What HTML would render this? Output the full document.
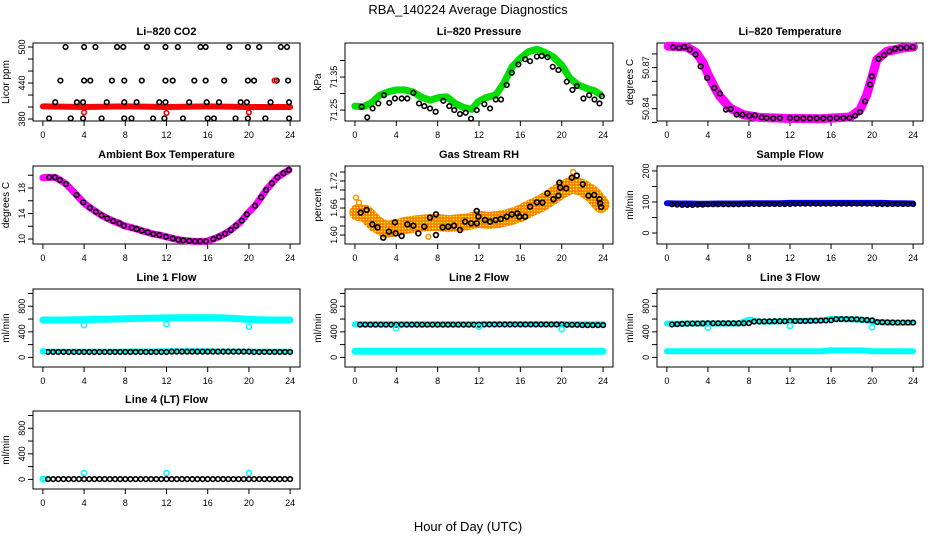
<!DOCTYPE html>
<html><head><meta charset="utf-8"><title>RBA_140224 Average Diagnostics</title>
<style>
html,body{margin:0;padding:0;background:#fff;}
svg{display:block;font-family:"Liberation Sans",sans-serif;}
</style></head>
<body>
<svg id="chart" width="936" height="540" viewBox="0 0 936 540" xmlns="http://www.w3.org/2000/svg">
<defs>
<pattern id="rhpat" width="3" height="3" patternUnits="userSpaceOnUse">
<rect width="3" height="3" fill="#ff9900"/>
<rect x="0" y="0" width="1" height="1" fill="#ffff00"/>
<rect x="1.5" y="1.5" width="1" height="1" fill="#ff2200"/>
</pattern>
</defs>
<text x="468" y="14" text-anchor="middle" font-size="13">RBA_140224  Average Diagnostics</text>
<text x="468" y="531" text-anchor="middle" font-size="13">Hour of Day (UTC)</text>
</svg>
<script>
// ---------- data ----------
const xTickLabels = [0,4,8,12,16,20,24];
// CO2 discrete levels
const co2Hours500 = [2.2,4.0,5.1,7.2,7.8,10.1,11.9,13.1,15.3,15.8,18.1,19.9,21.0,23.1,23.7];
const co2Hours444 = [1.7,4.0,4.6,6.7,7.9,9.6,11.9,12.6,14.7,15.8,17.6,19.9,20.5,22.7,23.8];
const co2Hours408 = [1.2,3.3,3.9,6.2,7.9,9.1,11.3,11.9,14.2,15.9,17.1,19.2,19.8,22.1,23.9];
const co2Hours381 = [0.6,2.7,3.9,5.7,7.9,8.6,10.7,11.8,13.6,16.0,16.6,18.7,19.9,21.6,23.9];
const co2Levels = [500,444,408,381];
const co2RedBandHours = [0,4,8,12,16,20,24];
const co2RedBandValues = [401,400,401,400,401,400,400];
const co2RedPtsHours = [4.0,12.0,20.0,22.5];
const co2RedPtsValues = [391,390,391,444];
// Pressure
const presBandHours = [0.0,0.8,1.6,2.4,3.2,4.0,4.8,5.6,6.5,7.3,8.1,8.9,9.7,10.5,11.3,11.9,12.7,13.6,14.4,15.2,16.0,16.8,17.6,18.4,19.2,20.0,20.8,21.6,22.4,23.2,23.7];
const presBandValues = [71.262,71.260,71.272,71.295,71.305,71.311,71.311,71.305,71.288,71.280,71.288,71.290,71.270,71.258,71.252,71.275,71.288,71.295,71.331,71.381,71.407,71.427,71.434,71.424,71.411,71.386,71.346,71.326,71.316,71.308,71.298];
const presPtsHours = [0.65,1.19,1.71,2.26,2.81,3.32,3.87,4.52,5.07,5.65,6.20,6.71,7.26,7.81,8.55,9.13,9.61,10.16,10.71,11.23,11.78,12.52,13.07,13.62,14.13,14.68,15.17,15.81,16.46,16.94,17.59,18.07,18.62,19.13,19.68,20.49,21.04,21.46,22.10,22.65,23.17,23.65,23.88];
const presPtsValues = [71.260,71.228,71.255,71.270,71.295,71.272,71.285,71.285,71.285,71.302,71.270,71.262,71.255,71.245,71.278,71.262,71.250,71.238,71.242,71.224,71.250,71.268,71.255,71.282,71.282,71.326,71.363,71.388,71.404,71.398,71.412,71.414,71.410,71.381,71.371,71.336,71.311,71.323,71.285,71.295,71.282,71.270,71.292];
// Li-820 temperature
const tempBandHours = [0.13,1.92,2.9,3.54,4.03,4.68,5.17,6.15,7.45,9.07,11.67,14.93,17.85,18.83,19.48,19.97,20.46,21.43,23.05,24.03];
const tempBandValues = [50.8856,50.8851,50.8807,50.8734,50.8649,50.8551,50.8490,50.8405,50.8356,50.8336,50.8329,50.8327,50.8339,50.8393,50.8502,50.8625,50.8758,50.8819,50.8844,50.8851];
const tempPtsHours = [0.62,1.2,1.69,2.24,2.8,3.29,3.93,4.62,5.17,5.76,6.24,6.8,7.38,8.03,8.59,9.24,9.72,10.37,11.02,12.0,12.65,13.3,13.95,14.6,15.25,15.9,16.56,17.2,17.79,18.34,18.83,19.32,19.8,19.97,20.62,21.17,21.69,22.24,22.8,23.38,23.97];
const tempPtsValues = [50.8849,50.8844,50.8851,50.8832,50.8795,50.8709,50.8625,50.8551,50.8510,50.8393,50.8398,50.8356,50.8356,50.8349,50.8351,50.8336,50.8332,50.8329,50.8332,50.8332,50.8329,50.8329,50.8329,50.8329,50.8329,50.8329,50.8332,50.8332,50.8332,50.8349,50.8376,50.8453,50.8576,50.8636,50.8764,50.8790,50.8819,50.8837,50.8844,50.8846,50.8849];
// Ambient box temperature
const ambHours = [0.62,1.17,1.65,2.24,3.27,3.92,4.57,5.15,5.7,6.25,6.83,7.42,7.87,8.62,9.1,9.59,10.17,10.72,11.3,11.95,12.6,13.15,13.63,14.22,14.77,15.26,15.84,16.55,17.1,17.69,18.24,18.76,19.31,19.8,20.6,21.19,21.67,22.23,22.77,23.35,23.88];
const ambValues = [19.67,19.67,19.25,18.63,16.90,15.75,14.91,14.28,13.71,13.24,12.82,12.46,12.09,11.78,11.57,11.31,11.05,10.78,10.63,10.36,10.10,9.90,9.79,9.69,9.63,9.63,9.63,10.0,10.36,10.84,11.41,12.09,12.88,13.87,15.22,16.54,17.69,18.73,19.67,20.31,20.82];
const ambBandHours = [0.0,0.62,1.17,1.65,2.24,3.27,3.92,4.57,5.15,5.7,6.25,6.83,7.42,7.87,8.62,9.1,9.59,10.17,10.72,11.3,11.95,12.6,13.15,13.63,14.22,14.77,15.26,15.84,16.55,17.1,17.69,18.24,18.76,19.31,19.8,20.6,21.19,21.67,22.23,22.77,23.35,23.88];
const ambBandValues = [19.6,19.67,19.67,19.25,18.63,16.90,15.75,14.91,14.28,13.71,13.24,12.82,12.46,12.09,11.78,11.57,11.31,11.05,10.78,10.63,10.36,10.10,9.90,9.79,9.69,9.63,9.63,9.63,10.0,10.36,10.84,11.41,12.09,12.88,13.87,15.22,16.54,17.69,18.73,19.67,20.31,20.82];
// Gas stream RH
const rhPtsHours = [0.55,1.13,1.68,2.19,2.74,3.29,3.87,3.94,4.52,5.07,5.65,6.13,6.71,7.26,7.84,7.84,8.49,9.03,9.58,10.16,10.65,11.23,11.78,11.78,11.94,12.58,13.07,13.62,14.1,14.68,15.17,15.71,15.9,16.46,16.94,17.59,18.13,18.62,19.2,19.68,19.78,19.85,20.43,20.98,21.46,22.04,22.59,23.14,23.65,23.72,23.81];
const rhPtsValues = [1.6496,1.6556,1.6237,1.6170,1.5941,1.6074,1.6281,1.6037,1.5978,1.6237,1.6207,1.6037,1.6185,1.6385,1.6459,1.6000,1.6170,1.6185,1.6207,1.6111,1.6296,1.6259,1.6259,1.6533,1.6407,1.6333,1.6296,1.6333,1.6356,1.6407,1.6459,1.6481,1.6407,1.6407,1.6630,1.6726,1.6719,1.6926,1.6793,1.6874,1.7163,1.7052,1.7037,1.7274,1.7319,1.7126,1.6874,1.6889,1.6793,1.6704,1.6622];
const rhBandHours = [0.3,1,2,3,4,5,6,7,8,9,10,11,12,13,14,15,16,17,18,19,20,21,22,23,23.8];
const rhBandValues = [1.650,1.648,1.625,1.612,1.616,1.622,1.625,1.627,1.628,1.625,1.627,1.630,1.635,1.632,1.635,1.640,1.648,1.660,1.670,1.685,1.700,1.712,1.705,1.690,1.668];
const rhOutHours = [0.1,0.4,7.1,16.5,21.1];
const rhOutValues = [1.683,1.672,1.596,1.643,1.740];
// half-hour grid for flow circles
const halfHours = [0.5,1,1.5,2,2.5,3,3.5,4,4.5,5,5.5,6,6.5,7,7.5,8,8.5,9,9.5,10,10.5,11,11.5,12,12.5,13,13.5,14,14.5,15,15.5,16,16.5,17,17.5,18,18.5,19,19.5,20,20.5,21,21.5,22,22.5,23,23.5,24];
const hourly = [0,1,2,3,4,5,6,7,8,9,10,11,12,13,14,15,16,17,18,19,20,21,22,23,24];
// Sample flow
const sampleBlue = [96,95,95,94,94,95,95,95,96,96,96,96,97,97,97,97,97,97,97,97,97,97,96,96,95];
const sampleBlack = [92,91,90,90,90,91,91,92,92,92,92,92,92,92,93,93,93,93,93,93,93,93,93,93,94,94,94,94,94,94,94,94,94,94,94,94,94,94,94,94,93,93,93,93,93,93,93,93];
// Line 1
const l1CyanUpper = [585,585,585,588,590,595,598,600,605,610,612,615,618,620,620,620,620,620,615,605,595,588,585,585,585];
const l1CyanLower = [95,95,95,95,95,95,95,95,100,100,100,100,105,105,105,105,105,100,100,100,95,95,95,95,95];
const l1Black = [85,85,85,85,85,85,85,85,85,85,85,85,85,85,85,85,85,85,85,85,85,85,85,85,90,90,90,90,90,90,90,90,90,90,90,90,90,90,90,90,85,85,85,85,85,85,85,85];
const l1OutHours = [0,4,12,20];
const l1OutValues = [95,505,520,480];
// Line 2
const l2CyanUpper = [520,520,520,520,520,520,520,520,520,520,520,520,520,520,520,520,520,520,520,520,520,520,520,520,520];
const l2CyanLower = [95,95,95,95,95,95,95,95,95,95,95,95,95,95,95,95,95,95,95,95,95,95,95,95,95];
const l2Black = [512,512,512,512,512,512,512,512,512,512,512,512,512,512,512,512,512,512,512,512,512,512,512,512,515,515,515,515,515,515,515,515,515,515,515,515,515,515,515,515,510,510,510,505,505,505,505,505];
const l2OutHours = [4,12,20];
const l2OutValues = [455,480,440];
// Line 3
const l3CyanUpper = [530,525,530,530,530,530,530,530,590,560,560,565,570,570,575,575,600,600,595,590,560,550,545,545,545];
const l3CyanLower = [95,95,95,95,95,95,95,95,95,95,95,95,95,95,95,95,110,110,110,110,95,95,95,95,95];
const l3Black = [515,520,525,528,530,530,532,534,534,534,534,534,534,534,534,536,560,562,563,564,565,565,566,570,570,570,570,572,574,576,578,580,597,598,598,598,596,590,585,580,552,550,548,546,545,545,545,545];
const l3OutHours = [4,12,20];
const l3OutValues = [466,492,471];
// Line 4
const l4Black = [5,5,5,5,5,5,5,5,5,5,5,5,5,5,5,5,5,5,5,5,5,5,5,5,5,5,5,5,5,5,5,5,5,5,5,5,5,5,5,5,5,5,5,5,5,5,5,5];
const l4CyanHours = [0,0.2,4,12,20];
const l4CyanValues = [5,5,100,100,100];

// ---------- drawing ----------
const NS = 'http://www.w3.org/2000/svg';
const svg = document.getElementById('chart');
function el(tag, attrs, parent){
  const e = document.createElementNS(NS, tag);
  for (const k in attrs) e.setAttribute(k, attrs[k]);
  (parent||svg).appendChild(e);
  return e;
}
const cols = [[33,300],[345,613],[657,923]];
const rows = [[43,121],[166,244],[289,367],[411,489]];

function makePanel(name, title, ylabel, col, row, yTop, yBot, ticks, labels){
  const [x0,x1] = cols[col], [y0,y1] = rows[row];
  const g = el('g', {});
  
  
  const xs = h => x0 + (h + 0.96) / 25.92 * (x1 - x0);
  const ys = v => y0 + (yTop - v) / (yTop - yBot) * (y1 - y0);
  const t = el('text', {x:(x0+x1)/2, y:y0-8, 'text-anchor':'middle', 'font-size':'11', 'font-weight':'bold'}, g);
  t.textContent = title;
  
  
  const yl = el('text', {x:0, y:0, 'text-anchor':'middle', 'font-size':'10', transform:`translate(${x0-24},${(y0+y1)/2}) rotate(-90)`}, g);
  yl.textContent = ylabel;
  
  
  const bx = el('rect', {x:x0, y:y0, width:x1-x0, height:y1-y0, fill:'none', stroke:'#000', 'stroke-width':1}, g);
  
  
  xTickLabels.forEach(h => {
    el('line', {x1:xs(h), x2:xs(h), y1:y1, y2:y1+5, stroke:'#000'}, g);
    const tl = el('text', {x:xs(h), y:y1+17, 'text-anchor':'middle', 'font-size':'9'}, g);
    tl.textContent = h;
    
    
  });
  ticks.forEach(v => { el('line', {x1:x0-5, x2:x0, y1:ys(v), y2:ys(v), stroke:'#000'}, g); });
  labels.forEach(v => {
    const tl = el('text', {x:0, y:0, 'text-anchor':'middle', 'font-size':'9', transform:`translate(${x0-8},${ys(v)}) rotate(-90)`}, g);
    tl.textContent = v;
    
    
  });
  const plot = el('g', {}, g);
  
  
  return {xs, ys, g:plot};
}
function band(p, hours, vals, color, w, name){
  const pts = hours.map((h,i) => p.xs(h).toFixed(1)+','+p.ys(vals[i]).toFixed(1)).join(' ');
  const l = el('polyline', {points:pts, fill:'none', stroke:color, 'stroke-width':w, 'stroke-linejoin':'round', 'stroke-linecap':'round'}, p.g);
  
  
}
function points(p, hours, vals, color, name, r, sw){
  hours.forEach((h,i) => {
    const c = el('circle', {cx:p.xs(h), cy:p.ys(vals[i]), r:r||2.3, fill:'none', stroke:color, 'stroke-width':sw||1.6}, p.g);
    
    
  });
}

let p = makePanel('panel-co2', 'Li\u2013820 CO2', 'Licor ppm', 0, 0, 506.7, 376.7, [380,400,420,440,460,480,500], [380,440,500]);
band(p, co2RedBandHours, co2RedBandValues, '#ff0000', 6, 'co2-red-band');
[co2Hours500, co2Hours444, co2Hours408, co2Hours381].forEach((hs, k) => {
  points(p, hs, hs.map(() => co2Levels[k]), '#000', 'co2-point');
});
points(p, co2RedPtsHours, co2RedPtsValues, '#ff0000', 'co2-red-point');

p = makePanel('panel-pressure', 'Li\u2013820 Pressure', 'kPa', 1, 0, 71.453, 71.217, [71.25,71.30,71.35,71.40], ['71.25','71.35']);
band(p, presBandHours, presBandValues, '#00dd00', 7, 'pressure-green-band');
points(p, presPtsHours, presPtsValues, '#000', 'pressure-point');

p = makePanel('panel-li820-temp', 'Li\u2013820 Temperature', 'degrees C', 2, 0, 50.888, 50.831, [50.83,50.84,50.85,50.86,50.87,50.88], ['50.84','50.87']);
band(p, tempBandHours, tempBandValues, '#ff00ff', 9, 'temp-magenta-band');
points(p, tempPtsHours, tempPtsValues, '#000', 'temp-point');

p = makePanel('panel-ambient-temp', 'Ambient Box Temperature', 'degrees C', 0, 1, 21.45, 9.22, [10,12,14,16,18,20], [10,14,18]);
band(p, ambBandHours, ambBandValues, '#ff00ff', 7, 'ambient-magenta-band');
points(p, ambHours, ambValues, '#000', 'ambient-point');

p = makePanel('panel-rh', 'Gas Stream RH', 'percent', 1, 1, 1.7533, 1.58, [1.60,1.62,1.64,1.66,1.68,1.70,1.72,1.74], ['1.60','1.66','1.72']);
band(p, rhBandHours, rhBandValues, 'url(#rhpat)', 17, 'rh-orange-band');
points(p, rhOutHours, rhOutValues, '#ff9900', 'rh-orange-point', 2.4, 1.6);
points(p, rhPtsHours, rhPtsValues, '#000', 'rh-point', 2.4, 1.7);

p = makePanel('panel-sample-flow', 'Sample Flow', 'ml/min', 2, 1, 216, -35.5, [0,50,100,150,200], [0,100,200]);
band(p, hourly, sampleBlue, '#0000ff', 6, 'sample-blue-band');
points(p, halfHours, sampleBlack, '#000', 'sample-point', 2.2, 1.5);

const flowTicks = [0,200,400,600,800,1000], flowLabels = [0,400,800];
p = makePanel('panel-line1-flow', 'Line 1 Flow', 'ml/min', 0, 2, 1070, -150, flowTicks, flowLabels);
band(p, hourly, l1CyanUpper, '#00ffff', 7, 'line1-cyan-upper');
band(p, hourly, l1CyanLower, '#00ffff', 5, 'line1-cyan-lower');
points(p, halfHours, l1Black, '#000', 'line1-point', 2.3, 1.6);
points(p, l1OutHours, l1OutValues, '#00ffff', 'line1-cyan-point', 2.6, 1.5);

p = makePanel('panel-line2-flow', 'Line 2 Flow', 'ml/min', 1, 2, 1070, -150, flowTicks, flowLabels);
band(p, hourly, l2CyanUpper, '#00ffff', 6, 'line2-cyan-upper');
band(p, hourly, l2CyanLower, '#00ffff', 7, 'line2-cyan-lower');
points(p, halfHours, l2Black, '#000', 'line2-point', 2.3, 1.6);
points(p, l2OutHours, l2OutValues, '#00ffff', 'line2-cyan-point', 2.6, 1.5);

p = makePanel('panel-line3-flow', 'Line 3 Flow', 'ml/min', 2, 2, 1070, -150, flowTicks, flowLabels);
band(p, hourly, l3CyanUpper, '#00ffff', 6, 'line3-cyan-upper');
band(p, hourly, l3CyanLower, '#00ffff', 6, 'line3-cyan-lower');
points(p, halfHours, l3Black, '#000', 'line3-point', 2.3, 1.6);
points(p, l3OutHours, l3OutValues, '#00ffff', 'line3-cyan-point', 2.6, 1.5);

p = makePanel('panel-line4-flow', 'Line 4 (LT) Flow', 'ml/min', 0, 3, 1070, -150, flowTicks, flowLabels);
points(p, l4CyanHours, l4CyanValues, '#00ffff', 'line4-cyan-point', 2.6, 1.6);
points(p, halfHours, l4Black, '#000', 'line4-point', 2.3, 1.6);
</script>
</body></html>
